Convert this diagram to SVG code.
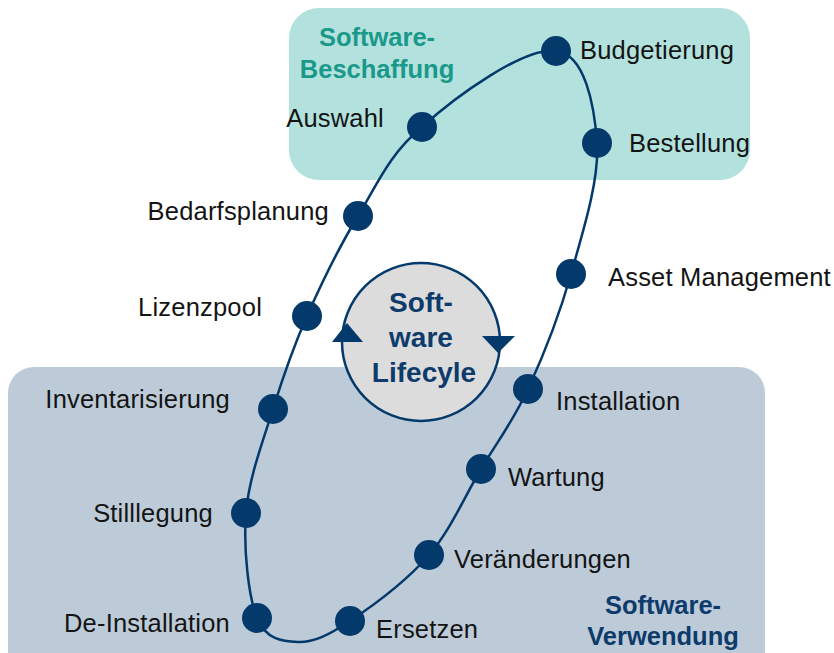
<svg xmlns="http://www.w3.org/2000/svg" width="834" height="653" viewBox="0 0 834 653">
<defs>
<style>
.lbl{font-family:"Liberation Sans",Arial,sans-serif;font-size:25.5px;letter-spacing:0.2px;fill:#141414;}
.ttl{font-family:"Liberation Sans",Arial,sans-serif;font-size:25.5px;font-weight:bold;text-anchor:middle;}
.ctr{font-family:"Liberation Sans",Arial,sans-serif;font-size:28px;font-weight:bold;text-anchor:middle;fill:#0d3b6b;}
.dot{fill:#033a6b;}
.loop{fill:none;stroke:#033a6b;stroke-width:2.5;}
</style>
</defs>
<g id="phase-beschaffung">
<rect x="289" y="8" width="461" height="172" rx="30" fill="#b3e2de"/>
<text class="ttl" x="377" y="46" fill="#1a998a">Software-</text>
<text class="ttl" x="377" y="78" fill="#1a998a">Beschaffung</text>
</g>
<g id="phase-verwendung">
<rect x="8" y="367" width="757" height="310" rx="26" fill="#bdcbd9"/>
<text class="ttl" x="663" y="614" fill="#0d3b6b">Software-</text>
<text class="ttl" x="663" y="645" fill="#0d3b6b">Verwendung</text>
</g>
<g id="connectors">
<path class="loop" d="M556,51 C585,53.7 594.5,106 597,143 C599.5,180.2 582.5,233 571,274 C559.5,315 543,356.5 528,389 C513,421.5 497.5,441.3 481,469 C464.5,496.7 450.8,529.7 429,555 C407.2,580.3 371.8,606.5 350,621 C328.2,635.5 313.5,642.5 298,642 C282.5,641.5 265.7,639.5 257,618 C248.3,596.5 243.3,547.8 246,513 C248.7,478.2 262.8,441.8 273,409 C283.2,376.2 292.8,348.2 307,316 C321.2,283.8 338.8,247.5 358,216 C377.2,184.5 389,154.3 422,127 C455,97 525,46 556,51 Z"/>
</g>
<g id="center">
<circle cx="421" cy="342" r="79" fill="#dcdcdc" stroke="#033a6b" stroke-width="2.5"/>
<polygon points="332,342 363,342 347,323" fill="#033a6b"/>
<polygon points="482,336 515,336 498,353" fill="#033a6b"/>
<text class="ctr" x="421" y="312">Soft-</text>
<text class="ctr" x="421" y="347">ware</text>
<text class="ctr" x="424" y="382">Lifecyle</text>
</g>
<g id="n-budgetierung"><circle class="dot" cx="556" cy="51" r="15"/><text class="lbl" x="580" y="59">Budgetierung</text></g>
<g id="n-bestellung"><circle class="dot" cx="597" cy="143" r="15"/><text class="lbl" x="629" y="152">Bestellung</text></g>
<g id="n-asset"><circle class="dot" cx="571" cy="274" r="15"/><text class="lbl" x="608" y="286">Asset Management</text></g>
<g id="n-installation"><circle class="dot" cx="528" cy="389" r="15"/><text class="lbl" x="556" y="410">Installation</text></g>
<g id="n-wartung"><circle class="dot" cx="481" cy="469" r="15"/><text class="lbl" x="508" y="486">Wartung</text></g>
<g id="n-veraenderungen"><circle class="dot" cx="429" cy="555" r="15"/><text class="lbl" x="454" y="568">Veränderungen</text></g>
<g id="n-ersetzen"><circle class="dot" cx="350" cy="621" r="15"/><text class="lbl" x="376" y="638">Ersetzen</text></g>
<g id="n-deinstallation"><circle class="dot" cx="257" cy="618" r="15"/><text class="lbl" x="230" y="632" text-anchor="end">De-Installation</text></g>
<g id="n-stilllegung"><circle class="dot" cx="246" cy="513" r="15"/><text class="lbl" x="213" y="522" text-anchor="end">Stilllegung</text></g>
<g id="n-inventarisierung"><circle class="dot" cx="273" cy="409" r="15"/><text class="lbl" x="230" y="408" text-anchor="end">Inventarisierung</text></g>
<g id="n-lizenzpool"><circle class="dot" cx="307" cy="316" r="15"/><text class="lbl" x="262" y="316" text-anchor="end">Lizenzpool</text></g>
<g id="n-bedarfsplanung"><circle class="dot" cx="358" cy="216" r="15"/><text class="lbl" x="329" y="220" text-anchor="end">Bedarfsplanung</text></g>
<g id="n-auswahl"><circle class="dot" cx="422" cy="127" r="15"/><text class="lbl" x="384" y="127" text-anchor="end">Auswahl</text></g>
</svg>
